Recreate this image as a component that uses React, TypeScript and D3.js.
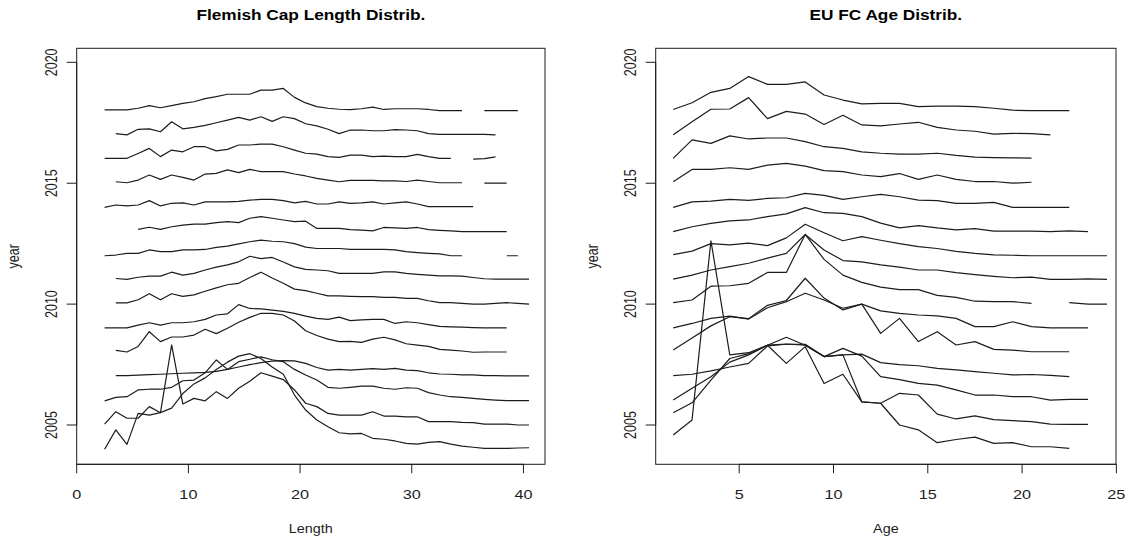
import React from "react";
import * as d3 from "d3";

// Years shown in both panels (one line per year, drawn at year + relative frequency)
const years = [2018, 2017, 2016, 2015, 2014, 2013, 2012, 2011, 2010, 2009, 2008, 2007, 2006, 2005, 2004];

// Length classes (cm mid-points)
const lengthBins = [2.5, 3.5, 4.5, 5.5, 6.5, 7.5, 8.5, 9.5, 10.5, 11.5, 12.5, 13.5, 14.5, 15.5, 16.5, 17.5, 18.5, 19.5, 20.5, 21.5,
  22.5, 23.5, 24.5, 25.5, 26.5, 27.5, 28.5, 29.5, 30.5, 31.5, 32.5, 33.5, 34.5, 35.5, 36.5, 37.5, 38.5, 39.5, 40.5];

// Age classes
const ageBins = [1.5, 2.5, 3.5, 4.5, 5.5, 6.5, 7.5, 8.5, 9.5, 10.5, 11.5, 12.5, 13.5, 14.5, 15.5, 16.5, 17.5, 18.5, 19.5, 20.5,
  21.5, 22.5, 23.5, 24.5];

// Length distributions (scaled frequency per length class, null = no sample)
const len2018 = [0.03, 0.03, 0.03, 0.1, 0.21, 0.12, 0.21, 0.3, 0.37, 0.5, 0.58, 0.68, 0.68, 0.68, 0.85, 0.85, 0.92, 0.55, 0.32, 0.17, 0.1, 0.06, 0.04, 0.08, 0.15, 0.05, 0.08, 0.08, 0.08, 0.05, 0, 0, 0, null, 0, 0, 0, 0, null];
const len2017 = [null, 0.05, 0, 0.23, 0.25, 0.13, 0.54, 0.25, 0.31, 0.39, 0.5, 0.61, 0.72, 0.61, 0.75, 0.56, 0.75, 0.67, 0.46, 0.37, 0.23, 0.05, 0.2, 0.2, 0.17, 0.17, 0.22, 0.2, 0.17, 0.05, 0.02, 0.02, 0.02, 0.02, 0.02, 0, null, null, null];
const len2016 = [0.03, 0.03, 0.03, 0.23, 0.44, 0.1, 0.37, 0.3, 0.51, 0.51, 0.34, 0.4, 0.58, 0.58, 0.62, 0.62, 0.51, 0.37, 0.24, 0.2, 0.1, 0.07, 0.16, 0.16, 0.1, 0.12, 0.1, 0.1, 0.19, 0.1, 0.03, 0.03, null, 0, 0.02, 0.09, null, null, null];
const len2015 = [null, 0.06, 0.02, 0.13, 0.34, 0.16, 0.34, 0.24, 0.13, 0.38, 0.41, 0.55, 0.44, 0.57, 0.48, 0.48, 0.48, 0.38, 0.3, 0.2, 0.13, 0.06, 0.12, 0.12, 0.12, 0.1, 0.1, 0.07, 0.13, 0.07, 0.02, 0.02, 0.02, null, 0, 0, 0, null, null];
const len2014 = [0, 0.1, 0.06, 0.1, 0.28, 0.06, 0.17, 0.19, 0.1, 0.23, 0.23, 0.23, 0.25, 0.3, 0.33, 0.33, 0.28, 0.19, 0.25, 0.14, 0.14, 0.23, 0.17, 0.19, 0.23, 0.14, 0.19, 0.23, 0.14, 0.03, 0.03, 0.03, 0.03, 0.03, null, null, null, null, null];
const len2013 = [null, null, null, 0.09, 0.18, 0.09, 0.2, 0.27, 0.31, 0.31, 0.37, 0.41, 0.37, 0.55, 0.62, 0.55, 0.48, 0.41, 0.43, 0.13, 0.13, 0.13, 0.08, 0.06, 0.03, 0.17, 0.15, 0.13, 0.17, 0.08, 0.05, 0.03, 0, 0, 0, 0, 0, null, null];
const len2012 = [0, 0.03, 0.1, 0.1, 0.24, 0.17, 0.17, 0.24, 0.24, 0.26, 0.35, 0.4, 0.49, 0.58, 0.65, 0.6, 0.58, 0.5, 0.36, 0.3, 0.3, 0.3, 0.26, 0.26, 0.26, 0.26, 0.24, 0.17, 0.13, 0.1, 0.08, 0, 0, null, null, null, 0, 0, null];
const len2011 = [null, 0.06, 0.02, 0.11, 0.16, 0.16, 0.32, 0.2, 0.27, 0.41, 0.53, 0.62, 0.75, 0.98, 0.88, 0.93, 0.74, 0.54, 0.44, 0.41, 0.38, 0.27, 0.27, 0.27, 0.27, 0.33, 0.33, 0.27, 0.23, 0.2, 0.17, 0.17, 0.16, 0.1, 0.05, 0.03, 0.03, 0.03, 0.03];
const len2010 = [null, 0.05, 0.05, 0.18, 0.43, 0.18, 0.43, 0.32, 0.38, 0.53, 0.67, 0.8, 0.86, 1.1, 1.32, 1.08, 0.86, 0.62, 0.56, 0.45, 0.34, 0.34, 0.32, 0.31, 0.31, 0.28, 0.28, 0.24, 0.24, 0.14, 0.06, 0.06, 0.03, 0, 0, 0.03, 0.06, 0.03, 0];
const len2009 = [0.02, 0.02, 0.02, 0.13, 0.23, 0.13, 0.23, 0.23, 0.27, 0.37, 0.55, 0.6, 0.98, 0.82, 0.8, 0.75, 0.7, 0.62, 0.5, 0.41, 0.37, 0.46, 0.32, 0.35, 0.37, 0.37, 0.2, 0.27, 0.23, 0.15, 0.08, 0.06, 0.05, 0.03, 0.02, 0.02, 0.02, null, null];
const len2008 = [null, 0.09, 0.02, 0.25, 0.86, 0.45, 0.64, 0.64, 0.72, 0.96, 0.78, 1.0, 1.25, 1.45, 1.62, 1.62, 1.55, 1.3, 0.9, 0.7, 0.55, 0.45, 0.46, 0.42, 0.55, 0.63, 0.52, 0.36, 0.3, 0.25, 0.13, 0.1, 0.06, 0.01, 0.02, 0.02, 0.02, null, null];
const len2007 = [null, 0.04, 0.04, 0.06, 0.08, 0.1, 0.12, 0.14, 0.16, 0.18, 0.22, 0.3, 0.4, 0.5, 0.58, 0.64, 0.66, 0.65, 0.55, 0.38, 0.27, 0.3, 0.27, 0.3, 0.33, 0.3, 0.34, 0.27, 0.25, 0.16, 0.11, 0.1, 0.07, 0.07, 0.04, 0.04, 0.03, 0.03, 0.03];
const len2006 = [0, 0.14, 0.17, 0.45, 0.48, 0.48, 0.56, 0.83, 0.86, 1.16, 1.69, 1.3, 1.62, 1.72, 1.82, 1.7, 1.62, 1.3, 1.07, 0.86, 0.56, 0.52, 0.56, 0.61, 0.61, 0.52, 0.48, 0.54, 0.52, 0.34, 0.24, 0.17, 0.14, 0.1, 0.06, 0.03, 0.01, 0.01, 0.01];
const len2005 = [0.04, 0.55, 0.28, 0.28, 0.76, 0.51, 3.31, 0.87, 1.1, 1.0, 1.38, 1.1, 1.52, 1.81, 2.16, 2.02, 1.88, 1.45, 0.9, 0.76, 0.48, 0.41, 0.41, 0.41, 0.55, 0.37, 0.37, 0.34, 0.34, 0.14, 0.14, 0.14, 0.11, 0.1, 0.04, 0.04, 0.04, 0, 0];
const len2004 = [0, 0.8, 0.2, 1.48, 1.41, 1.51, 1.7, 2.3, 2.7, 2.95, 3.3, 3.6, 3.85, 3.95, 3.75, 3.4, 3.1, 2.24, 1.62, 1.21, 0.93, 0.68, 0.63, 0.65, 0.45, 0.41, 0.34, 0.24, 0.21, 0.28, 0.31, 0.21, 0.13, 0.08, 0.03, 0.03, 0.03, 0.05, 0.06];

// Age distributions (scaled frequency per age class, null = no sample)
const age2018 = [0.05, 0.33, 0.76, 0.92, 1.41, 1.09, 1.09, 1.19, 0.65, 0.44, 0.28, 0.3, 0.3, 0.17, 0.19, 0.19, 0.17, 0.1, 0.02, 0, 0, 0, null, null];
const age2017 = [0, 0.54, 1.06, 1.07, 1.54, 0.67, 0.97, 0.86, 0.43, 0.81, 0.41, 0.37, 0.45, 0.52, 0.31, 0.2, 0.15, 0.03, 0.06, 0.05, 0, null, null, null];
const age2016 = [0.03, 0.79, 0.65, 0.96, 0.83, 0.87, 0.87, 0.72, 0.51, 0.44, 0.3, 0.24, 0.2, 0.2, 0.24, 0.15, 0.08, 0.06, 0.05, 0.04, null, null, null, null];
const age2015 = [0.06, 0.57, 0.57, 0.64, 0.57, 0.75, 0.82, 0.71, 0.52, 0.48, 0.34, 0.27, 0.4, 0.16, 0.34, 0.16, 0.07, 0.07, 0, 0.04, null, null, null, null];
const age2014 = [0, 0.23, 0.26, 0.33, 0.29, 0.37, 0.4, 0.58, 0.5, 0.33, 0.44, 0.54, 0.44, 0.3, 0.28, 0.17, 0.17, 0.21, 0, 0, 0, 0, null, null];
const age2013 = [0, 0.2, 0.34, 0.44, 0.48, 0.62, 0.73, 0.99, 0.78, 0.75, 0.62, 0.35, 0.15, 0.25, 0.15, 0.07, 0.12, 0.02, 0.02, 0.02, 0, 0.03, 0, null];
const age2012 = [0.05, 0.19, 0.5, 0.45, 0.52, 0.42, 0.74, 1.3, 0.95, 0.62, 0.79, 0.64, 0.5, 0.38, 0.3, 0.18, 0.1, 0.04, 0.02, 0, 0, 0, 0, 0];
const age2011 = [0.03, 0.2, 0.41, 0.55, 0.69, 0.9, 1.1, 1.88, 1.24, 0.8, 0.75, 0.62, 0.53, 0.41, 0.41, 0.3, 0.22, 0.15, 0.09, 0.12, 0.02, 0.02, 0.04, 0.02];
const age2010 = [0.06, 0.17, 0.74, 0.76, 0.86, 1.31, 1.31, 2.88, 1.85, 1.2, 0.9, 0.7, 0.6, 0.6, 0.36, 0.28, 0.12, 0.1, 0.1, 0.03, null, 0.06, 0, 0];
const age2009 = [0.02, 0.2, 0.41, 0.5, 0.38, 0.85, 1.1, 1.45, 1.17, 0.83, 1.0, 0.72, 0.62, 0.55, 0.51, 0.41, 0.07, 0.07, 0.27, 0.07, 0.02, 0.02, 0.02, null];
const age2008 = [0.1, 0.6, 1.1, 1.48, 1.4, 1.95, 2.15, 3.07, 2.25, 1.76, 2.0, 0.79, 1.41, 0.45, 0.86, 0.31, 0.45, 0.13, 0.1, 0.03, 0.03, 0.03, null, null];
const age2007 = [0.04, 0.1, 0.24, 0.4, 0.55, 1.27, 1.34, 1.34, 0.83, 0.9, 0.93, 0.58, 0.5, 0.45, 0.34, 0.28, 0.21, 0.14, 0.07, 0.09, 0.05, 0, null, null];
const age2006 = [0.03, 0.52, 1.0, 1.6, 1.9, 2.3, 2.63, 2.3, 1.83, 2.17, 1.85, 1.0, 0.88, 0.72, 0.65, 0.45, 0.24, 0.24, 0.17, 0.17, 0.03, 0.06, 0.06, null];
const age2005 = [0.51, 0.92, 1.86, 2.75, 2.95, 3.3, 3.35, 3.3, 2.83, 2.9, 0.96, 0.9, 1.31, 1.24, 0.45, 0.25, 0.38, 0.22, 0.18, 0.14, 0.04, 0.03, 0.03, null];
const age2004 = [0.59, 1.21, 8.62, 3.9, 3.99, 4.3, 3.55, 4.24, 2.72, 3.1, 1.96, 1.9, 1.0, 0.8, 0.27, 0.4, 0.5, 0.24, 0.27, 0.1, 0.1, 0.03, null, null];

const lengthRows = [len2018, len2017, len2016, len2015, len2014, len2013, len2012, len2011, len2010, len2009, len2008, len2007, len2006, len2005, len2004];
const ageRows = [age2018, age2017, age2016, age2015, age2014, age2013, age2012, age2011, age2010, age2009, age2008, age2007, age2006, age2005, age2004];

const lengthTicks = [0, 10, 20, 30, 40];
const ageTicks = [5, 10, 15, 20, 25];
const yearTicks = [2005, 2010, 2015, 2020];

const WIDTH = 1128;
const HEIGHT = 539;
const PLOT_TOP = 48.3;
const PLOT_BOTTOM = 464.3;
const INK = "#1c1c1c";
const FONT = "'Liberation Sans', Arial, sans-serif";
const AXIS_SIZE = 12.5;
const TICK_STRETCH = 1.3;
const LABEL_STRETCH = 1.15;

const yScale = d3.scaleLinear().domain([2003.375, 2020.58]).range([PLOT_BOTTOM, PLOT_TOP]);

type PanelProps = {
  title: string;
  xLabel: string;
  bins: number[];
  rows: (number | null)[][];
  xDomain: [number, number];
  left: number;
  right: number;
  xTicks: number[];
};

function Panel({ title, xLabel, bins, rows, xDomain, left, right, xTicks }: PanelProps) {
  const x = d3.scaleLinear().domain(xDomain).range([left, right]);
  const cx = (left + right) / 2;

  return (
    <g>
      {rows.map((row, i) => {
        const year = years[i];
        const pts = bins.map((b, j) => [b, row[j]] as [number, number | null]);
        const line = d3
          .line<[number, number | null]>()
          .defined((d) => d[1] !== null && d[1] !== undefined)
          .x((d) => x(d[0]))
          .y((d) => yScale(year + (d[1] as number)));
        return (
          <path key={year} d={line(pts) || ""} fill="none" stroke={INK} strokeWidth={1.2} strokeLinejoin="round" />
        );
      })}

      <rect x={left} y={PLOT_TOP} width={right - left} height={PLOT_BOTTOM - PLOT_TOP} fill="none" stroke={INK} strokeWidth={1} />

      {/* x axis */}
      <line x1={x(xTicks[0])} x2={x(xTicks[xTicks.length - 1])} y1={PLOT_BOTTOM} y2={PLOT_BOTTOM} stroke={INK} />
      {xTicks.map((t) => (
        <g key={t}>
          <line x1={x(t)} x2={x(t)} y1={PLOT_BOTTOM} y2={PLOT_BOTTOM + 9} stroke={INK} />
          <text
            transform={`translate(${x(t)},${499}) scale(${TICK_STRETCH},1)`}
            textAnchor="middle"
            fontSize={AXIS_SIZE}
            fontFamily={FONT}
            fill={INK}
          >
            {t}
          </text>
        </g>
      ))}

      {/* y axis */}
      <line x1={left} x2={left} y1={yScale(yearTicks[0])} y2={yScale(yearTicks[yearTicks.length - 1])} stroke={INK} />
      {yearTicks.map((t) => (
        <g key={t}>
          <line x1={left - 10} x2={left} y1={yScale(t)} y2={yScale(t)} stroke={INK} />
          <text
            transform={`translate(${left - 19.5},${yScale(t)}) scale(${TICK_STRETCH},1) rotate(-90)`}
            textAnchor="middle"
            fontSize={AXIS_SIZE}
            fontFamily={FONT}
            fill={INK}
          >
            {t}
          </text>
        </g>
      ))}

      <text
        transform={`translate(${left - 58},${(PLOT_TOP + PLOT_BOTTOM) / 2}) scale(${TICK_STRETCH},1) rotate(-90)`}
        textAnchor="middle"
        fontSize={AXIS_SIZE}
        fontFamily={FONT}
        fill={INK}
      >
        year
      </text>
      <text
        transform={`translate(${cx},${533}) scale(${LABEL_STRETCH},1)`}
        textAnchor="middle"
        fontSize={AXIS_SIZE}
        fontFamily={FONT}
        fill={INK}
      >
        {xLabel}
      </text>
      <text
        transform={`translate(${cx},${19.5}) scale(1.25,1)`}
        textAnchor="middle"
        fontSize={13.8}
        fontWeight="bold"
        fontFamily={FONT}
        fill="#000"
      >
        {title}
      </text>
    </g>
  );
}

export default function App() {
  return (
    <svg
      width={WIDTH}
      height={HEIGHT}
      viewBox={`0 0 ${WIDTH} ${HEIGHT}`}
      style={{ position: "absolute", left: 0, top: 0, background: "#fff" }}
    >
      <rect width={WIDTH} height={HEIGHT} fill="#fff" />
      <Panel
        title="Flemish Cap Length Distrib."
        xLabel="Length"
        bins={lengthBins}
        rows={lengthRows}
        xDomain={[0, 41.93]}
        left={76.7}
        right={545}
        xTicks={lengthTicks}
      />
      <Panel
        title="EU FC Age Distrib."
        xLabel="Age"
        bins={ageBins}
        rows={ageRows}
        xDomain={[0.572, 24.98]}
        left={655.7}
        right={1116}
        xTicks={ageTicks}
      />
    </svg>
  );
}
